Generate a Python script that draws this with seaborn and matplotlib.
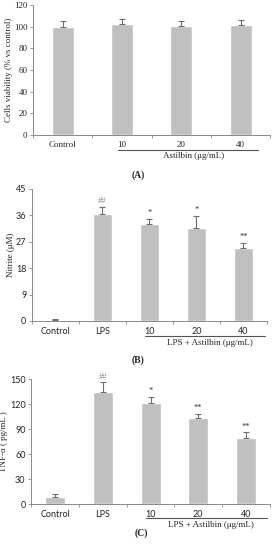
import numpy as np
import pandas as pd
import matplotlib
matplotlib.use("Agg")
import matplotlib.pyplot as plt
import seaborn as sns

# data
cats_a = ["Control", "10", "20", "40"]
viability = [100, 103, 100.5, 101.5]
viability_sd = [5, 4, 5, 4.5]

cats_b = ["Control", "LPS", "10", "20", "40"]
nitrite = [0.5, 36.5, 33, 31.8, 24.8]
nitrite_sd = [0.3, 2.5, 1.8, 4, 1.7]
nitrite_sig = ["", "##", "*", "*", "**"]

cats_c = ["Control", "LPS", "10", "20", "40"]
tnf = [8.5, 135, 121, 103, 79]
tnf_sd = [3.5, 11, 8, 5, 7]
tnf_sig = ["", "##", "*", "**", "**"]

sns.set_style("white")
serif = ["Liberation Serif", "DejaVu Serif"]
sans = ["Lato", "DejaVu Sans"]
bar_col = "#c0c0c0"
axis_col = "#8a8a8a"

fig = plt.figure(figsize=(2.78, 5.5), dpi=100)


def panel(rect, cats, vals, sds, yticks, ylabel, tickfont, group_label, line_x, sig=None):
    ax = fig.add_axes(rect)
    df = pd.DataFrame({"cat": cats, "val": vals})
    width = 0.37 if len(cats) == 4 else 0.42
    sns.barplot(data=df, x="cat", y="val", color=bar_col, width=width,
                errorbar=None, saturation=1, ax=ax)
    x = np.arange(len(cats))
    ax.errorbar(x, vals, yerr=[np.zeros(len(sds)), sds], fmt="none",
                ecolor="#6e6e6e", elinewidth=0.8, capsize=2, capthick=0.8)
    ax.set_xlim(-0.5, len(cats) - 0.5)
    ax.set_ylim(yticks[0], yticks[-1])
    ax.set_yticks(yticks)
    ax.set_xticks(x)
    ax.set_xticklabels(cats, fontsize=6.5, family=tickfont)
    ax.set_yticklabels([str(t) for t in yticks], fontsize=6.5, family=tickfont)
    ax.tick_params(axis="x", length=0, pad=4)
    ax.tick_params(axis="y", length=2.5, width=0.6, color=axis_col, pad=1.5, left=True)
    # ticks between categories on the x axis
    ax.set_xticks(np.arange(len(cats) + 1) - 0.5, minor=True)
    ax.tick_params(axis="x", which="minor", length=2.5, width=0.6, color=axis_col, bottom=True)
    ax.set_xlabel("")
    ax.set_ylabel(ylabel, fontsize=6.5, family=serif, labelpad=1)
    for s in ["top", "right"]:
        ax.spines[s].set_visible(False)
    for s in ["left", "bottom"]:
        ax.spines[s].set_color(axis_col)
        ax.spines[s].set_linewidth(0.7)
    tr = ax.get_xaxis_transform()
    ax.plot(line_x, [-0.112, -0.112], transform=tr, color="#555555", lw=0.8, clip_on=False)
    ax.text(np.mean(line_x) + 0.1, -0.165, group_label, transform=tr, ha="center",
            va="center", fontsize=6.5, family=serif)
    if sig is not None:
        span = yticks[-1] - yticks[0]
        for xi, v, sd, s in zip(x, vals, sds, sig):
            if s:
                col = "#8a8a8a" if s == "##" else "#333333"
                ax.text(xi, v + sd + span * 0.015, s, ha="center", va="bottom",
                        fontsize=6, color=col, family=serif)
    return ax


panel([0.119, 0.7545, 0.853, 0.236], cats_a, viability, viability_sd,
      [0, 20, 40, 60, 80, 100, 120], "Cells viability (% vs control)", serif,
      "Astilbin (\u03bcg/mL)", [0.93, 3.3])
fig.text(0.497, 1 - 175 / 550, "(A)", ha="center", va="center", fontsize=7,
         weight="bold", family=serif)

panel([0.115, 0.4164, 0.845, 0.24], cats_b, nitrite, nitrite_sd,
      [0, 9, 18, 27, 36, 45], "Nitrite (\u03bcM)", sans,
      "LPS + Astilbin (\u03bcg/mL)", [1.9, 4.46], nitrite_sig)
fig.text(0.497, 1 - 360 / 550, "(B)", ha="center", va="center", fontsize=7,
         weight="bold", family=serif)

panel([0.112, 0.0836, 0.859, 0.227], cats_c, tnf, tnf_sd,
      [0, 30, 60, 90, 120, 150], "TNF-\u03b1 ( pg/mL )", sans,
      "LPS + Astilbin (\u03bcg/mL)", [1.9, 4.44], tnf_sig)
fig.text(0.507, 1 - 533 / 550, "(C)", ha="center", va="center", fontsize=7,
         weight="bold", family=serif)

fig.savefig("out.png", dpi=100)
